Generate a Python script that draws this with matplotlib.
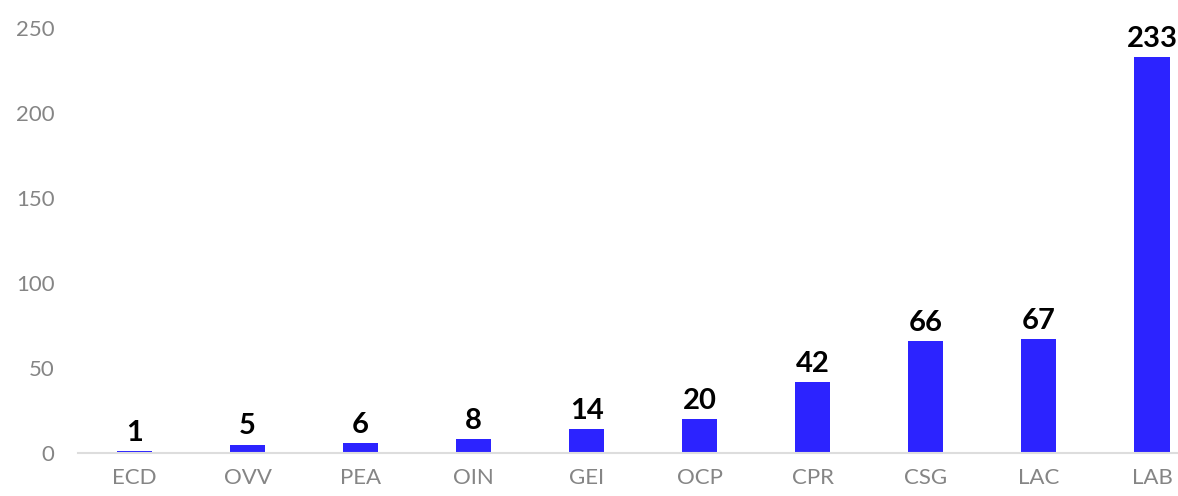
import matplotlib.pyplot as plt

categories = ['ECD', 'OVV', 'PEA', 'OIN', 'GEI', 'OCP', 'CPR', 'CSG', 'LAC', 'LAB']
values = [1, 5, 6, 8, 14, 20, 42, 66, 67, 233]
yticks = [0, 50, 100, 150, 200, 250]

plt.rcParams['font.family'] = ['Lato', 'DejaVu Sans']

fig = plt.figure(figsize=(11.78, 4.96), dpi=100)
ax = fig.add_axes([78 / 1178, 43 / 496, 1100 / 1178, 425 / 496])

x = range(len(categories))
bars = ax.bar(x, values, width=0.31, color='#2C23FF')

for b, v in zip(bars, values):
    ax.text(b.get_x() + b.get_width() / 2, v + 3, str(v), ha='center', va='bottom',
            fontsize=21, fontweight='bold', color='black', clip_on=False)

ax.set_xlim(-0.5, 9.23)
ax.set_ylim(0, 250)
ax.set_xticks(list(x))
ax.set_xticklabels(categories)
ax.set_yticks(yticks)

for s in ['top', 'right', 'left']:
    ax.spines[s].set_visible(False)
ax.spines['bottom'].set_color('#dddddd')
ax.spines['bottom'].set_linewidth(1.5)

ax.tick_params(axis='both', length=0, labelsize=16, labelcolor='#858585')
ax.tick_params(axis='x', pad=11)
ax.tick_params(axis='y', pad=17)

fig.savefig('out.png', dpi=100)
